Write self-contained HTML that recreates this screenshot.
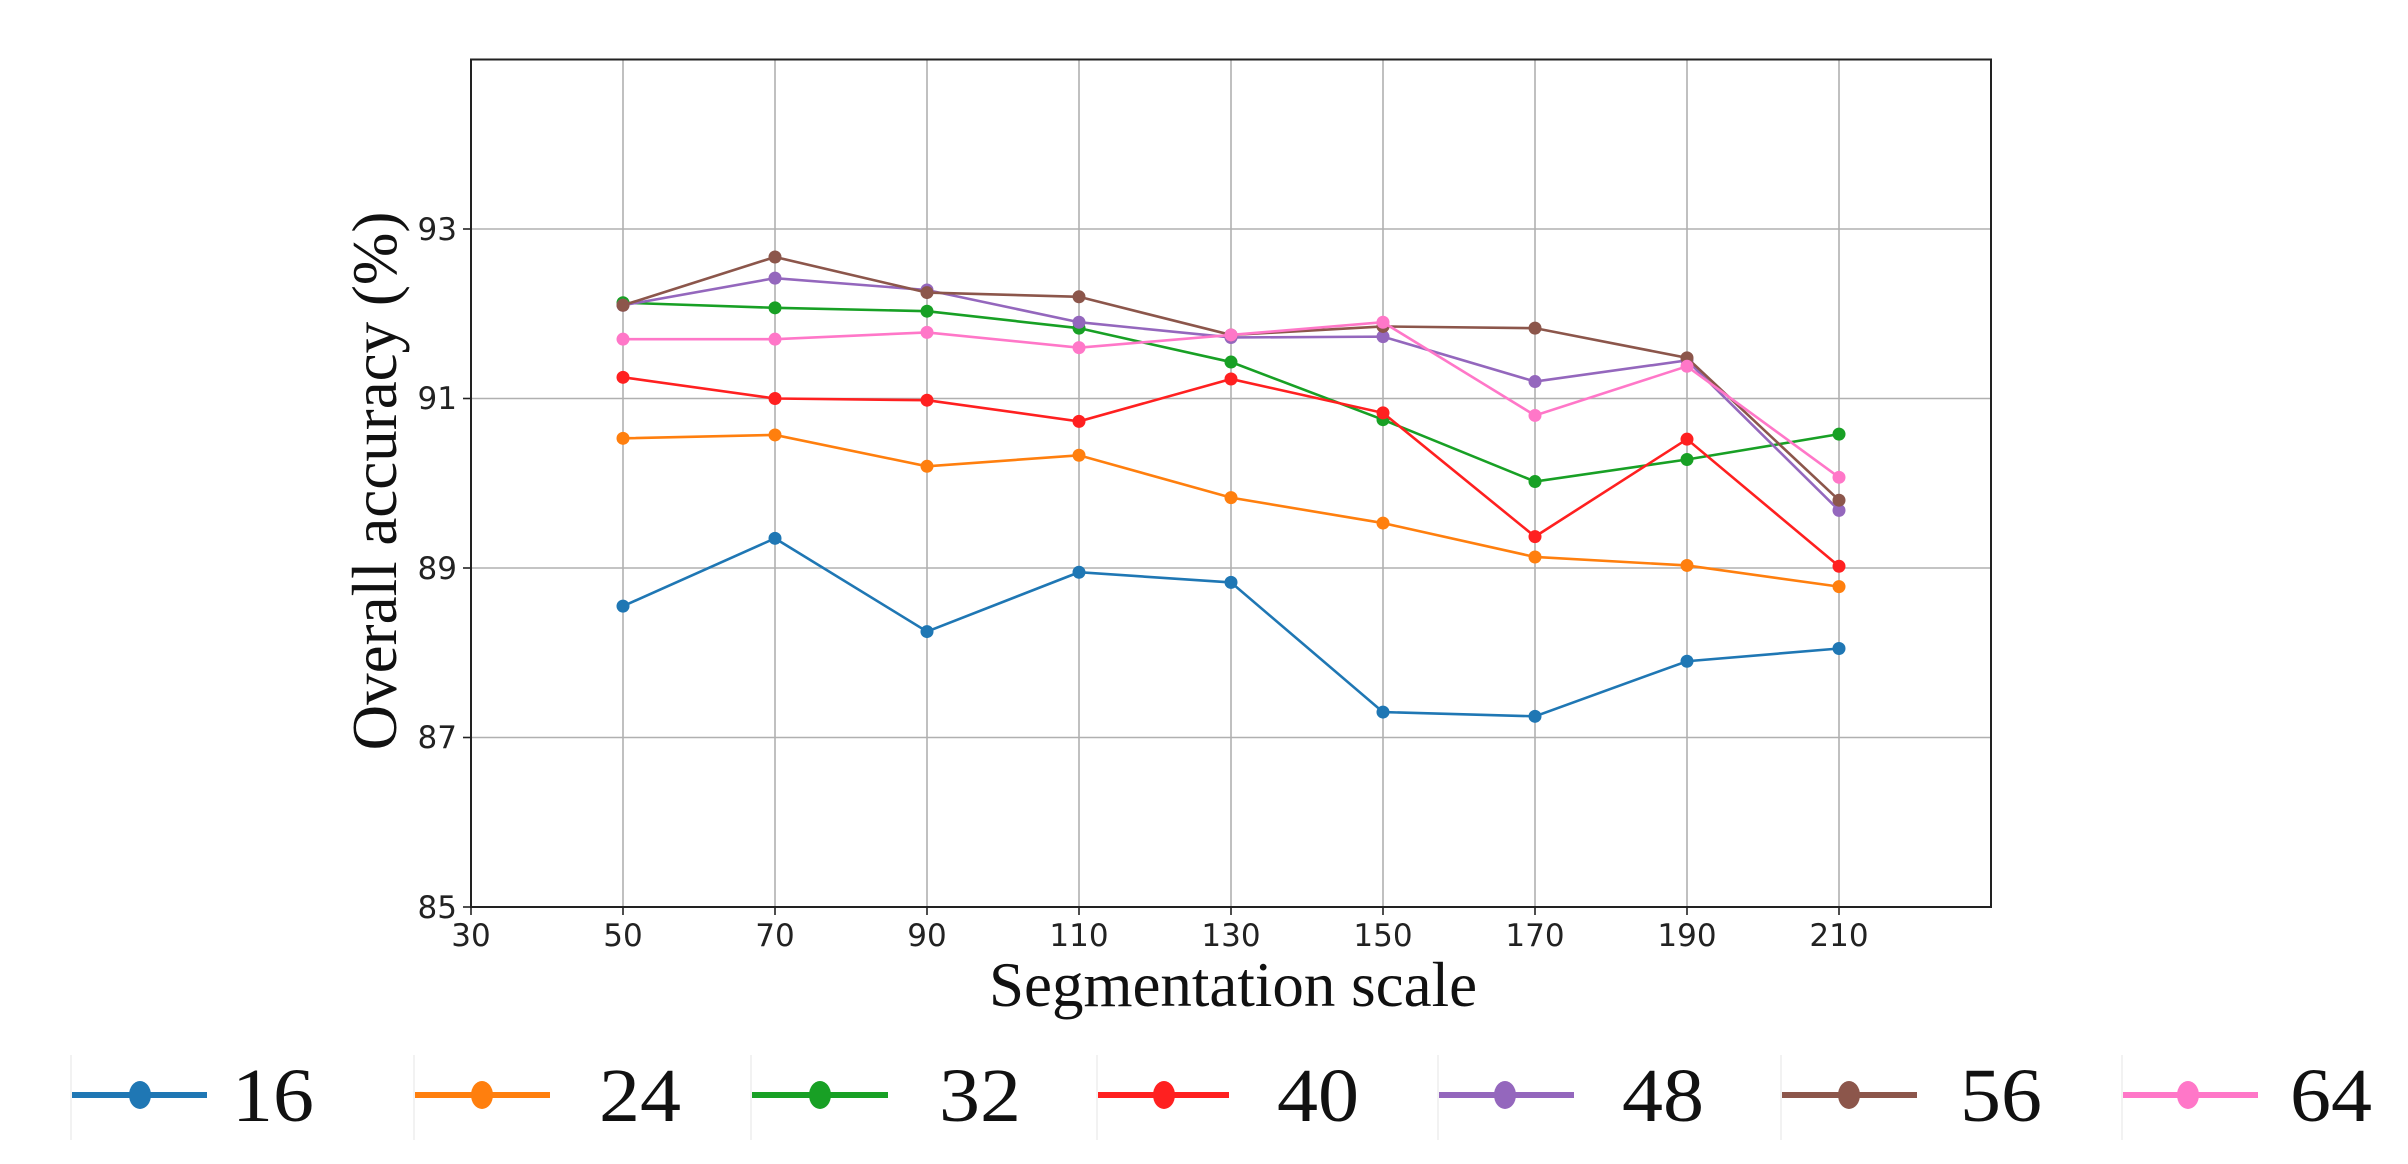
<!DOCTYPE html>
<html><head><meta charset="utf-8"><style>html,body{margin:0;padding:0;background:#fff}svg{display:block}</style></head>
<body>
<svg id="s" width="2408" height="1164" viewBox="0 0 2408 1164" xmlns="http://www.w3.org/2000/svg">
<rect width="2408" height="1164" fill="#fff"/>
<g id="grid" stroke="#b0b0b0" stroke-width="1.6"></g>
<g id="series"></g>
<rect x="471" y="59.5" width="1520" height="847.5" fill="none" stroke="#222" stroke-width="2"/>
<g font-family="DejaVu Sans, sans-serif" font-size="31" fill="#222" text-anchor="end">
<text x="457" y="918">85</text><text x="457" y="748">87</text><text x="457" y="579">89</text><text x="457" y="409">91</text><text x="457" y="240">93</text>
</g>
<g font-family="DejaVu Sans, sans-serif" font-size="31" fill="#222" text-anchor="middle">
<text x="471" y="946">30</text><text x="623" y="946">50</text><text x="775" y="946">70</text><text x="927" y="946">90</text><text x="1079" y="946">110</text><text x="1231" y="946">130</text><text x="1383" y="946">150</text><text x="1535" y="946">170</text><text x="1687" y="946">190</text><text x="1839" y="946">210</text>
</g>
<text x="1233" y="1006" font-family="Liberation Serif, serif" font-size="63" text-anchor="middle" fill="#111">Segmentation scale</text>
<text transform="translate(396,481) rotate(-90)" font-family="Liberation Serif, serif" font-size="63" text-anchor="middle" fill="#111">Overall accuracy (%)</text>
<g id="legend"></g>
<g font-family="Liberation Serif, serif" font-size="76" fill="#111">
<text x="232" y="1121" textLength="82" lengthAdjust="spacingAndGlyphs">16</text><text x="599" y="1121" textLength="82" lengthAdjust="spacingAndGlyphs">24</text><text x="939" y="1121" textLength="82" lengthAdjust="spacingAndGlyphs">32</text><text x="1277" y="1121" textLength="82" lengthAdjust="spacingAndGlyphs">40</text><text x="1622" y="1121" textLength="82" lengthAdjust="spacingAndGlyphs">48</text><text x="1960" y="1121" textLength="82" lengthAdjust="spacingAndGlyphs">56</text><text x="2290" y="1121" textLength="82" lengthAdjust="spacingAndGlyphs">64</text>
</g>
</svg>
<script>
var ns="http://www.w3.org/2000/svg";
function el(p,t,a){var e=document.createElementNS(ns,t);for(var k in a)e.setAttribute(k,a[k]);p.appendChild(e);return e;}
var g=document.getElementById('grid');
for(var i=0;i<10;i++){var x=471+i*152;el(g,'line',{x1:x,x2:x,y1:59.5,y2:907});}
for(var v=85;v<=93;v+=2){var y=907-(v-85)*84.75;el(g,'line',{x1:471,x2:1991,y1:y,y2:y});el(g,'line',{x1:463,x2:471,y1:y,y2:y,stroke:'#222'});}
for(var i=0;i<10;i++){var x=471+i*152;el(g,'line',{x1:x,x2:x,y1:907,y2:915,stroke:'#222'});}
var cols=['#1f77b4','#ff7f0e','#18a025','#ff2020','#9467bd','#8c564b','#ff77c8'];
var d=[
[88.55,89.35,88.25,88.95,88.83,87.3,87.25,87.9,88.05],
[90.53,90.57,90.2,90.33,89.83,89.53,89.13,89.03,88.78],
[92.13,92.07,92.03,91.83,91.43,90.75,90.02,90.28,90.58],
[91.25,91.0,90.98,90.73,91.23,90.83,89.37,90.52,89.02],
[92.1,92.42,92.28,91.9,91.72,91.73,91.2,91.45,89.68],
[92.1,92.67,92.25,92.2,91.75,91.85,91.83,91.48,89.8],
[91.7,91.7,91.78,91.6,91.75,91.9,90.8,91.38,90.07]];
var s=document.getElementById('series');
d.forEach(function(r,j){var pts=r.map(function(v,i){return [623+i*152,907-(v-85)*84.75];});
el(s,'polyline',{points:pts.map(function(p){return p.join(',')}).join(' '),fill:'none',stroke:cols[j],'stroke-width':2.6});
pts.forEach(function(p){el(s,'circle',{cx:p[0],cy:p[1],r:6.5,fill:cols[j]});});});
var L=document.getElementById('legend');
var lx=[[72,207,140],[415,550,482],[752,888,820],[1098,1229,1164],[1439,1574,1505],[1782,1917,1849],[2123,2258,2188]];
lx.forEach(function(a,j){el(L,'line',{x1:a[0],x2:a[1],y1:1095,y2:1095,stroke:cols[j],'stroke-width':6});
el(L,'ellipse',{cx:a[2],cy:1095,rx:11,ry:14,fill:cols[j]});
el(L,'line',{x1:a[0]-1,x2:a[0]-1,y1:1055,y2:1140,stroke:'#eee','stroke-width':1.5});});
</script>
</body></html>
